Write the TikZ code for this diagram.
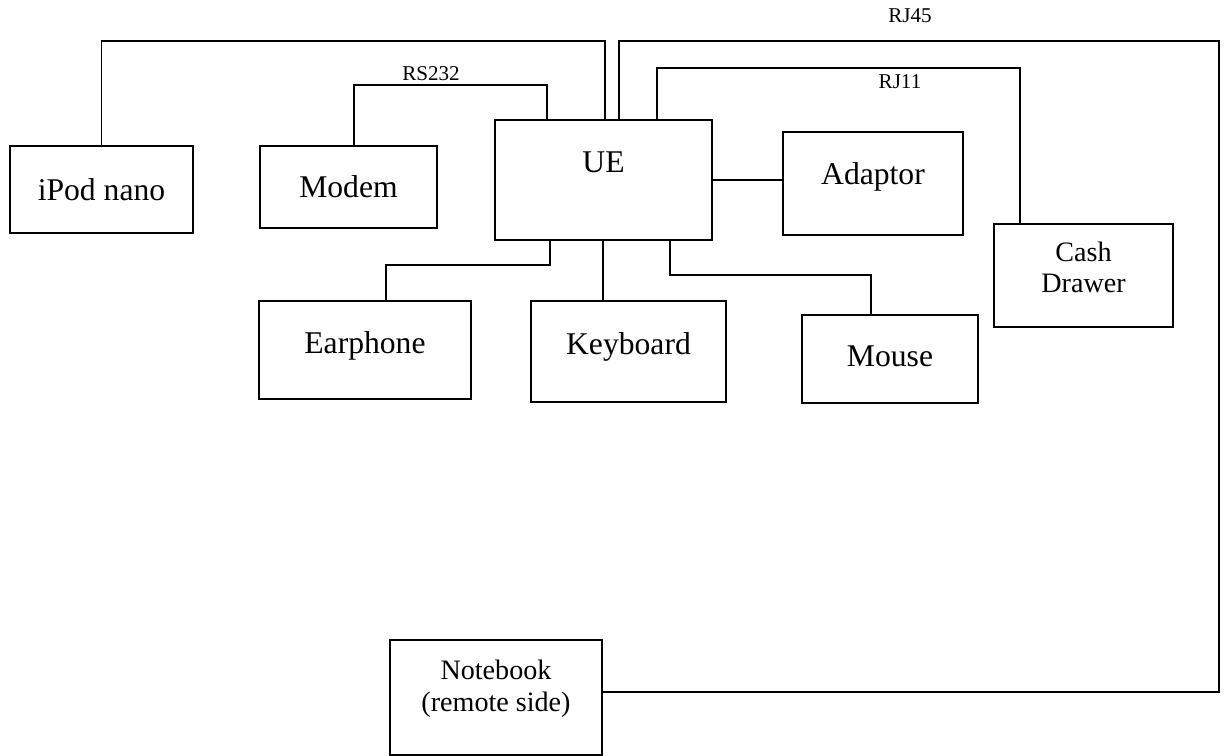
\documentclass[tikz,border=0pt]{standalone}
\usepackage{fontspec}
\setmainfont{Liberation Serif}
\begin{document}
\begin{tikzpicture}[x=0.02cm,y=-0.02cm,line width=1.1pt,
  box/.style={draw,inner sep=0pt,outer sep=0pt,font=\fontsize{18}{21}\selectfont,text height=12pt,text depth=#1},
  box/.default=0pt,
  twoline/.style={align=center,font=\fontsize{16}{18}\selectfont,text height=29pt},
  cable/.style={font=\fontsize{12}{14}\selectfont}]

\useasboundingbox (0,0) rectangle (1224,756);

% devices
\node[box,minimum width=3.66cm,minimum height=1.74cm] (ipod) at (101.5,189.5) {iPod nano};
\node[box,minimum width=3.54cm,minimum height=1.64cm] (modem) at (348.5,187) {Modem};
\node[box=20pt,minimum width=4.34cm,minimum height=2.4cm] (ue) at (603.5,180) {UE};
\node[box=11pt,minimum width=3.6cm,minimum height=2.06cm] (adaptor) at (873,183.5) {Adaptor};
\node[box=9.4pt,twoline,minimum width=3.58cm,minimum height=2.06cm] (cash) at (1083.5,275.5) {Cash\\Drawer};
\node[box=8pt,minimum width=4.24cm,minimum height=1.96cm] (earphone) at (365,350) {Earphone};
\node[box=9pt,minimum width=3.9cm,minimum height=2.02cm] (keyboard) at (628.5,351.5) {Keyboard};
\node[box=3.4pt,minimum width=3.52cm,minimum height=1.76cm] (mouse) at (890,359) {Mouse};
\node[box=13.4pt,twoline,minimum width=4.24cm,minimum height=2.3cm] (notebook) at (496,697.5) {Notebook\\(remote side)};

% cable levels and ports
\coordinate (top45) at (0,41);
\coordinate (top11) at (0,68);
\coordinate (toprs) at (0,85);
\coordinate (corner45) at (1219,41);

\coordinate (ue-rs) at (547,120);
\coordinate (ue-ipod) at (605,120);
\coordinate (ue-rj45) at (619,120);
\coordinate (ue-rj11) at (657,120);
\coordinate (ue-ear) at (550,240);
\coordinate (ue-key) at (603,240);
\coordinate (ue-mouse) at (670,240);

\coordinate (cash-in) at (1020,224);
\coordinate (ear-in) at (386,301);
\coordinate (mouse-in) at (871,315);
\coordinate (nb-in) at (602,692);

% cables
\draw (ipod.north) -- (ipod.north |- top45) -| (ue-ipod);
\draw ([xshift=0.11cm]modem.north) |- (toprs -| ue-rs) -- (ue-rs);
\draw (ue-rj45) |- (corner45) |- (nb-in);
\draw (ue-rj11) |- (top11 -| cash-in) -- (cash-in);
\draw (ue.east) -- (ue.east -| adaptor.west);
\draw (ue-ear) -- ++(0,25) -| (ear-in);
\draw (ue-key) -- (ue-key |- keyboard.north);
\draw (ue-mouse) -- ++(0,35) -| (mouse-in);

\node[cable] (rs232) at (431,74) {RS232};
\node[cable] (rj45) at (910,16) {RJ45};
\node[cable] (rj11) at (900,82) {RJ11};

\end{tikzpicture}
\end{document}
